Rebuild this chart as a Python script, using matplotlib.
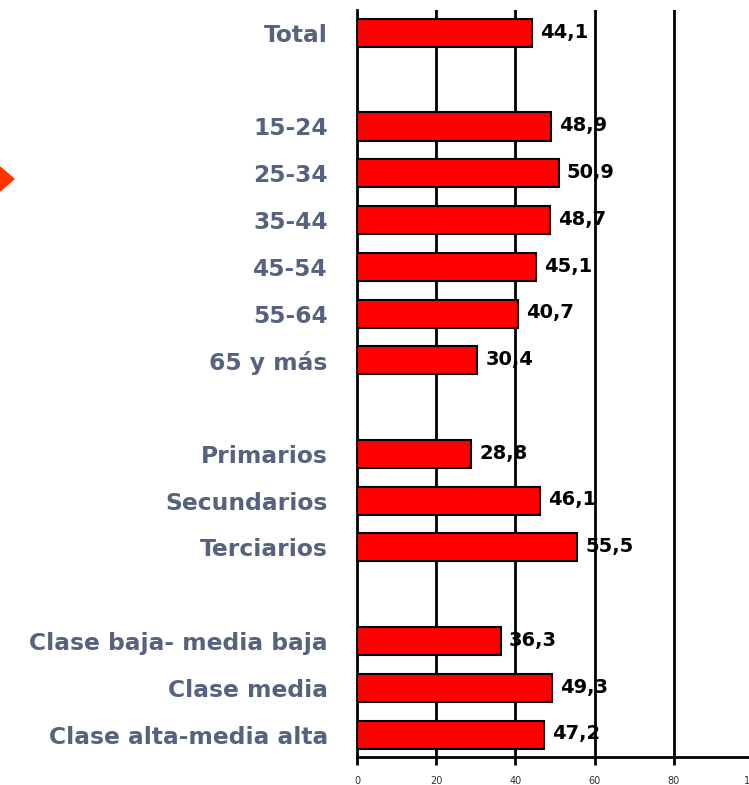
import matplotlib
matplotlib.use("Agg")
import matplotlib.pyplot as plt
from matplotlib.patches import Polygon

categories = ["Total", "", "15-24", "25-34", "35-44", "45-54", "55-64", "65 y más", "",
              "Primarios", "Secundarios", "Terciarios", "",
              "Clase baja- media baja", "Clase media", "Clase alta-media alta"]
values = [44.1, None, 48.9, 50.9, 48.7, 45.1, 40.7, 30.4, None,
          28.8, 46.1, 55.5, None, 36.3, 49.3, 47.2]
value_labels = ["44,1", "", "48,9", "50,9", "48,7", "45,1", "40,7", "30,4", "",
                "28,8", "46,1", "55,5", "", "36,3", "49,3", "47,2"]
xticks = [0, 20, 40, 60, 80, 100]

fig = plt.figure(figsize=(7.49, 7.85), dpi=100)
ax = fig.add_axes([357/749, 28/785, 396/749, 747/785])

pos = [i for i, v in enumerate(values) if v is not None]
vals = [v for v in values if v is not None]
ax.barh(pos, vals, height=0.6, color="#ff0000", edgecolor="black", linewidth=1.5, zorder=3)

for i, (v, lab) in enumerate(zip(values, value_labels)):
    if v is None:
        continue
    ax.annotate(lab, xy=(v, i), xytext=(6, 0.5), textcoords="offset points",
                ha="left", va="center", fontsize=14, fontweight="bold",
                color="black", zorder=4)

ax.set_xlim(0, 100)
ax.set_ylim(15.48, -0.49)
for x in xticks[1:-1]:
    ax.axvline(x, color="black", linewidth=2, zorder=1)

ax.set_yticks(range(len(categories)))
ax.set_yticklabels(categories, fontsize=16.8, fontweight="bold", color="#56637f")
ax.tick_params(axis="y", length=0, pad=21)
ax.set_xticks(xticks)
ax.set_xticklabels([str(t) for t in xticks], fontsize=7, color="#333333")
ax.tick_params(axis="x", length=6, width=2, direction="out", pad=8)

for s in ["top", "right"]:
    ax.spines[s].set_visible(False)
for s in ["left", "bottom"]:
    ax.spines[s].set_linewidth(2)
    ax.spines[s].set_color("black")

tri = Polygon([[0, 1 - 167/785], [14/749, 1 - 179/785], [0, 1 - 191/785]],
              closed=True, transform=fig.transFigure, color="#ff3300")
fig.patches.append(tri)

fig.savefig("out.png", dpi=100)
